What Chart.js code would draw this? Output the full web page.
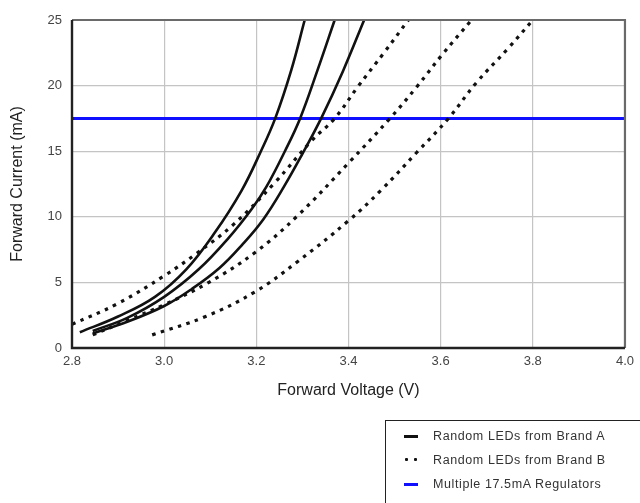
<!DOCTYPE html>
<html>
<head>
<meta charset="utf-8">
<script src="https://cdn.jsdelivr.net/npm/chart.js@4.4.1/dist/chart.umd.min.js"></script>
<style>
  html, body { margin: 0; padding: 0; background: #fff; overflow: hidden; }
  #wrap { position: relative; width: 640px; height: 503px; }
  canvas { position: absolute; left: 0; top: 0; }
  #legend {
    position: absolute; left: 385px; top: 420px; width: 280px; height: 100px;
    border: 1.5px solid #222; box-sizing: border-box;
    font-family: "Liberation Sans", Arial, sans-serif; font-size: 12.5px; color: #333;
    letter-spacing: 0.6px;
  }
  .row { position: absolute; left: 0; height: 16px; line-height: 16px; white-space: nowrap; }
  .row span.t { position: absolute; left: 47px; top: 0; }
  .mk { position: absolute; left: 18px; top: 7px; width: 14px; height: 3px; }
  .dot { position: absolute; top: 6px; width: 3px; height: 3px; background: #111; border-radius: 1px; }
</style>
</head>
<body>
<div id="wrap">
  <canvas id="c" width="640" height="503"></canvas>
  <div id="legend"></div>
</div>
<script>
// ---- data ----
const xTickLabels = ['2.8', '3.0', '3.2', '3.4', '3.6', '3.8', '4.0'];
const yTickLabels = ['0', '5', '10', '15', '20', '25'];

const legendLabels = ['Random LEDs from Brand A', 'Random LEDs from Brand B', 'Multiple 17.5mA Regulators'];

// Brand A (solid)
const a1V = [2.817, 2.90, 2.98, 3.048, 3.11, 3.168, 3.210, 3.241, 3.276, 3.305];
const a1I = [1.2, 2.4, 3.9, 6.0, 8.8, 12.0, 15.0, 17.5, 21.2, 25.0];
const a2V = [2.845, 2.92, 3.0, 3.075, 3.14, 3.19, 3.222, 3.262, 3.295, 3.333, 3.370];
const a2I = [1.3, 2.3, 3.9, 6.0, 8.4, 10.6, 12.3, 15.0, 17.5, 21.2, 25.0];
const a3V = [2.845, 2.92, 3.0, 3.06, 3.12, 3.17, 3.215, 3.26, 3.300, 3.342, 3.388, 3.434];
const a3I = [1.1, 2.0, 3.2, 4.5, 6.1, 7.9, 9.8, 12.3, 14.8, 17.6, 21.1, 25.0];

// Brand B (dotted)
const b1V = [2.80, 2.90, 3.0, 3.07, 3.15, 3.24, 3.32, 3.37, 3.42, 3.477, 3.53];
const b1I = [1.8, 3.4, 5.5, 7.2, 9.4, 12.6, 15.8, 17.5, 19.9, 22.5, 25.0];
const b2V = [2.845, 2.92, 3.0, 3.097, 3.198, 3.29, 3.40, 3.49, 3.548, 3.602, 3.667];
const b2I = [1.0, 2.1, 3.3, 5.0, 7.3, 10.1, 14.1, 17.5, 19.9, 22.3, 25.0];
const b3V = [2.974, 3.09, 3.198, 3.29, 3.40, 3.47, 3.548, 3.617, 3.677, 3.748, 3.80];
const b3I = [1.0, 2.4, 4.3, 6.6, 9.7, 12.0, 14.9, 17.5, 20.2, 22.9, 25.0];

// Regulator line
const regV = [2.8, 4.0];
const regI = [17.5, 17.5];

// ---- build ----
const pts = (v, i) => v.map((x, k) => ({ x: x, y: i[k] }));
const solid = (v, i) => ({ data: pts(v, i), borderColor: '#111', borderWidth: 2.6, pointRadius: 0,
  tension: 0.4, fill: false, label: legendLabels[0] });
const dotted = (v, i) => ({ data: pts(v, i), borderColor: '#111', borderWidth: 3.2, borderDash: [3.5, 5.5],
  pointRadius: 0, tension: 0.4, fill: false, label: legendLabels[1] });

const datasets = [
  dotted(b1V, b1I), dotted(b2V, b2I), dotted(b3V, b3I),
  solid(a1V, a1I), solid(a2V, a2I), solid(a3V, a3I),
  { data: pts(regV, regI), borderColor: '#1010ff', borderWidth: 3, pointRadius: 0, fill: false, label: legendLabels[2] }
];

const framePlugin = {
  id: 'frame',
  afterDraw(chart) {
    const { ctx, chartArea: a } = chart;
    ctx.save();
    ctx.strokeStyle = '#6a6a6a';
    ctx.lineWidth = 2.2;
    ctx.beginPath();
    ctx.moveTo(a.left, a.top); ctx.lineTo(a.right, a.top); ctx.lineTo(a.right, a.bottom);
    ctx.stroke();
    ctx.strokeStyle = '#222';
    ctx.lineWidth = 2.4;
    ctx.beginPath();
    ctx.moveTo(a.left, a.top); ctx.lineTo(a.left, a.bottom); ctx.lineTo(a.right, a.bottom);
    ctx.stroke();
    ctx.restore();
  }
};

const tickFont = { family: '"Liberation Sans", Arial, sans-serif', size: 13 };
const titleFont = { family: '"Liberation Sans", Arial, sans-serif', size: 16 };

new Chart(document.getElementById('c'), {
  type: 'line',
  data: { datasets },
  plugins: [framePlugin],
  options: {
    responsive: false,
    animation: false,
    devicePixelRatio: 1,
    layout: { padding: { left: 0, top: 20, right: 10, bottom: 95 } },
    plugins: { legend: { display: false }, tooltip: { enabled: false } },
    scales: {
      x: {
        type: 'linear', min: 2.8, max: 4.0,
        afterFit(s) { s.height = 60; },
        afterBuildTicks(s) { s.ticks = xTickLabels.map(t => ({ value: parseFloat(t) })); },
        ticks: { callback: (v, idx) => xTickLabels[idx], color: '#444', font: tickFont, padding: 6, maxRotation: 0 },
        grid: { color: '#c4c4c4', lineWidth: 1.2, drawTicks: false },
        border: { display: false },
        title: { display: true, text: 'Forward Voltage (V)', color: '#222', font: titleFont, padding: { top: 4, bottom: 8 } }
      },
      y: {
        type: 'linear', min: 0, max: 25,
        afterFit(s) { s.width = 72; },
        afterBuildTicks(s) { s.ticks = yTickLabels.map(t => ({ value: parseFloat(t) })); },
        ticks: { callback: (v, idx) => yTickLabels[idx], color: '#444', font: tickFont, padding: 10 },
        grid: { color: '#c4c4c4', lineWidth: 1.2, drawTicks: false },
        border: { display: false },
        title: { display: true, text: 'Forward Current (mA)', color: '#222', font: titleFont, padding: { top: 8, bottom: 4 } }
      }
    }
  }
});

// ---- HTML legend ----
const leg = document.getElementById('legend');
const rowsTop = [7, 31, 55];
legendLabels.forEach((lab, k) => {
  const r = document.createElement('div');
  r.className = 'row';
  r.style.top = rowsTop[k] + 'px';
  if (k === 1) {
    [19, 28].forEach(x => { const d = document.createElement('div'); d.className = 'dot'; d.style.left = x + 'px'; r.appendChild(d); });
  } else {
    const m = document.createElement('div');
    m.className = 'mk';
    m.style.background = k === 0 ? '#111' : '#1010ff';
    r.appendChild(m);
  }
  const t = document.createElement('span');
  t.className = 't';
  t.textContent = lab;
  r.appendChild(t);
  leg.appendChild(r);
});
</script>
</body>
</html>
